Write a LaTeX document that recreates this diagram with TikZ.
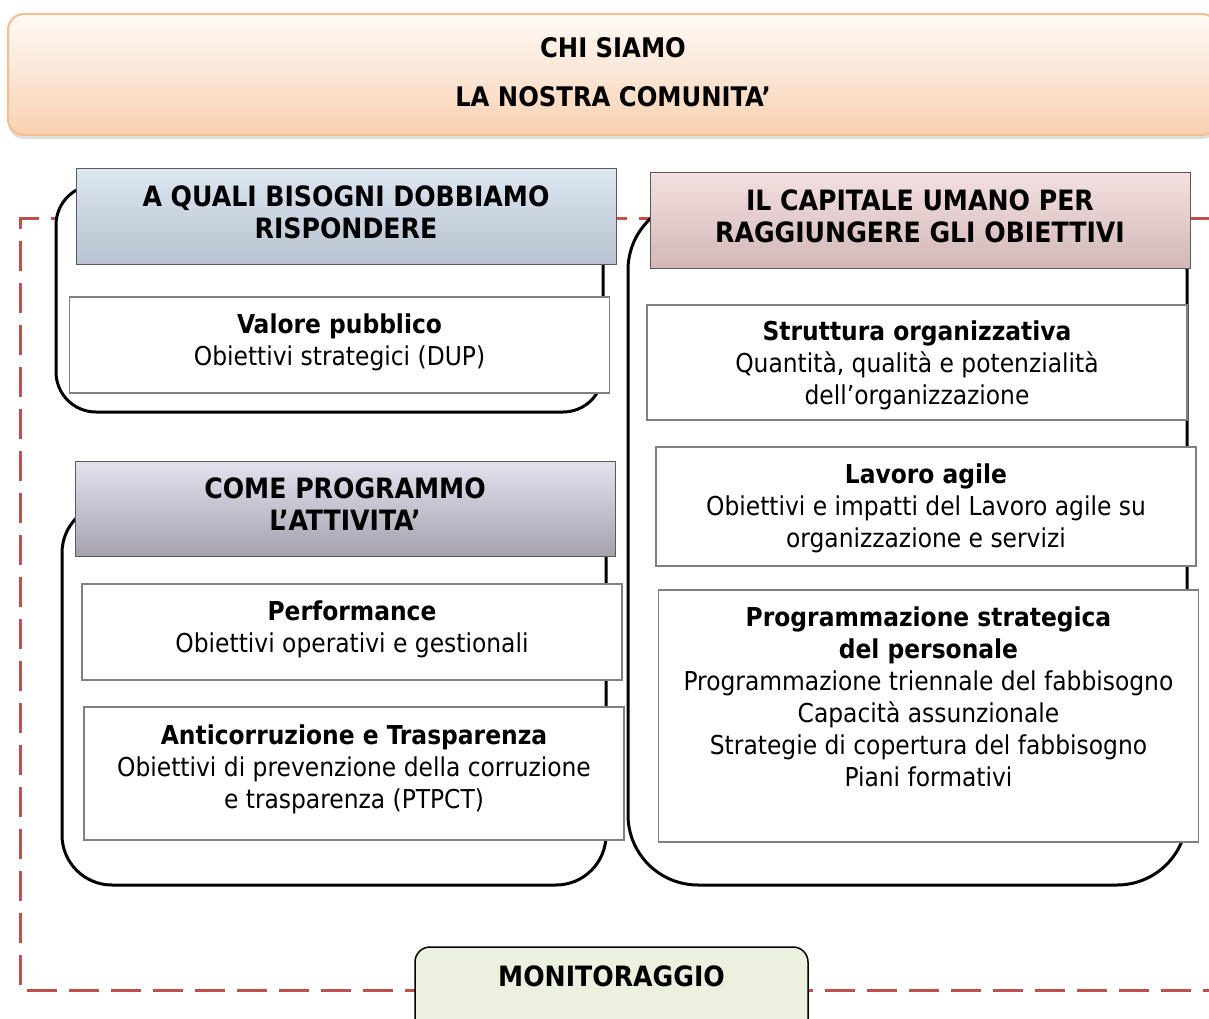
\documentclass[tikz,border=0pt]{standalone}
\usepackage{fontspec}
\setmainfont{DejaVu Sans Condensed}
\usetikzlibrary{shadows}

\definecolor{frame red}{HTML}{C0504D}
\definecolor{banner top}{HTML}{FEFAF6}
\definecolor{banner bottom}{HTML}{F9D1B2}
\definecolor{banner line}{HTML}{F6BD8E}
\definecolor{blue top}{HTML}{DDE7F2}
\definecolor{blue bottom}{HTML}{B8C2D0}
\definecolor{pink top}{HTML}{F3E0DF}
\definecolor{pink bottom}{HTML}{D3B8B8}
\definecolor{lilac top}{HTML}{E6E1EE}
\definecolor{lilac bottom}{HTML}{A5A1AF}
\definecolor{green fill}{HTML}{EBF1DE}

\newcommand{\boxfont}{\fontsize{26}{32}\selectfont}
\newcommand{\headfont}{\fontsize{28}{32}\selectfont\bfseries}

\begin{document}
\begin{tikzpicture}[x=1pt,y=-1pt,font=\boxfont]
    \tikzstyle{group}=[draw=black, line width=3pt, fill=white, inner sep=0pt]
    \tikzstyle{head}=[draw=black!65, line width=1pt, align=center, font=\headfont,
      minimum width=540pt, minimum height=95pt, inner sep=0pt, text depth=8pt]
    \tikzstyle{item}=[draw=black!50, line width=1.2pt, fill=white, align=center,
      minimum width=540pt, inner sep=0pt]

    \useasboundingbox (0,0) rectangle (1209,1019);

    % banner at the top
    \node[rounded corners=16pt, draw=banner line, line width=2pt, top color=banner top,
      bottom color=banner bottom, minimum width=1210pt, minimum height=121pt, align=center,
      font=\fontsize{27}{32}\selectfont\bfseries, text depth=6pt,
      drop shadow={shadow xshift=0pt, shadow yshift=-4pt, fill=black!25},
      inner sep=0pt] (chi) at (613, 74.5) {CHI SIAMO\\[17pt]LA NOSTRA COMUNITA’};

    % dashed frame
    \draw[frame red, line width=3pt, dash pattern=on 30pt off 12pt]
      (1215, 218) -- (20, 218) -- (20, 990) -- (1215, 990);

    % rounded groups
    \node[group, rounded corners=40pt, minimum width=547pt, minimum height=227pt] (needs) at (329.5, 298.5) {};
    \node[group, rounded corners=50pt, minimum width=544pt, minimum height=382pt] (plan) at (334, 694) {};
    \node[group, rounded corners=70pt, minimum width=559pt, minimum height=685pt] (staff) at (907.5, 542.5) {};

    % headers
    \node[head, top color=blue top, bottom color=blue bottom] (needs head) at (346, 216.5)
      {A QUALI BISOGNI DOBBIAMO\\RISPONDERE};
    \node[head, top color=lilac top, bottom color=lilac bottom] (plan head) at (345, 508.5)
      {COME PROGRAMMO\\L’ATTIVITA’};
    \node[head, top color=pink top, bottom color=pink bottom] (staff head) at (920, 220.5)
      {IL CAPITALE UMANO PER\\RAGGIUNGERE GLI OBIETTIVI};

    % boxes
    \node[item, minimum height=96pt, text depth=10pt] (value) at (339.5, 345)
      {\textbf{Valore pubblico}\\Obiettivi strategici (DUP)};
    \node[item, minimum height=96pt, text depth=10pt] (perf) at (352, 632)
      {\textbf{Performance}\\Obiettivi operativi e gestionali};
    \node[item, minimum height=133pt, text depth=14pt] (anti) at (354, 773.5)
      {\textbf{Anticorruzione e Trasparenza}\\Obiettivi di prevenzione della corruzione\\e trasparenza (PTPCT)};
    \node[item, minimum height=115pt, text depth=0pt] (struct) at (917, 362.5)
      {\textbf{Struttura organizzativa}\\Quantità, qualità e potenzialità\\dell’organizzazione};
    \node[item, minimum height=119pt, text depth=2pt] (agile) at (926, 506.5)
      {\textbf{Lavoro agile}\\Obiettivi e impatti del Lavoro agile su\\organizzazione e servizi};
    \node[item, minimum height=252pt, text depth=38pt] (prog) at (928.5, 716)
      {\textbf{Programmazione strategica}\\\textbf{del personale}\\Programmazione triennale del fabbisogno\\Capacità assunzionale\\Strategie di copertura del fabbisogno\\Piani formativi};

    % monitoring
    \node[draw=black, line width=1.5pt, fill=green fill, rounded corners=15pt, font=\headfont,
      minimum width=393pt, minimum height=95pt, text depth=36pt, inner sep=0pt] (monit)
      at (611.5, 994.5) {MONITORAGGIO};
\end{tikzpicture}
\end{document}
